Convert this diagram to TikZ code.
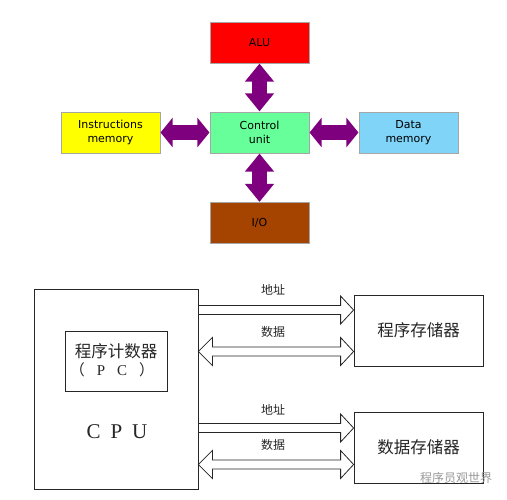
\documentclass[tikz,border=0pt]{standalone}
\usepackage{fontspec}
\setmainfont{DejaVu Sans}
\newfontfamily\cjk{Noto Sans CJK SC}
\newfontfamily\serifl{Liberation Serif}
\usetikzlibrary{arrows.meta,calc}
\definecolor{alured}{HTML}{FF0000}
\definecolor{cugreen}{HTML}{66FF99}
\definecolor{insyellow}{HTML}{FFFF00}
\definecolor{dmblue}{HTML}{80D4F8}
\definecolor{iobrown}{HTML}{A54300}
\definecolor{fatpurple}{HTML}{7F007F}
\newcommand\hollowR[2]{\draw[thinline] ($(#1)+(0,-4.5)$) -- ($(#2)+(-13,-4.5)$) -- ($(#2)+(-13,-14)$) -- (#2) -- ($(#2)+(-13,14)$) -- ($(#2)+(-13,4.5)$) -- ($(#1)+(0,4.5)$);}
\newcommand\hollowD[2]{\draw[thinline] ($(#1)+(14,-4.5)$) -- ($(#2)+(-13,-4.5)$) -- ($(#2)+(-13,-14)$) -- (#2) -- ($(#2)+(-13,14)$) -- ($(#2)+(-13,4.5)$) -- ($(#1)+(14,4.5)$) -- ($(#1)+(14,14)$) -- (#1) -- ($(#1)+(14,-14)$) -- cycle;}
\begin{document}
\begin{tikzpicture}[x=1pt,y=-1pt,
  topbox/.style={draw=black!35,line width=0.6pt,minimum width=99pt,minimum height=41pt,inner sep=0pt,align=center,font=\fontsize{11}{14}\selectfont},
  fatV/.style={draw=fatpurple,line width=15pt,{Triangle[width=28pt,length=18pt]}-{Triangle[width=28pt,length=18pt]}},
  fatH/.style={draw=fatpurple,line width=15pt,{Triangle[width=29pt,length=12pt]}-{Triangle[width=29pt,length=12pt]}},
  botbox/.style={draw=black!85,line width=0.8pt,inner sep=0pt},
  thinline/.style={draw=black!85,line width=0.8pt},
  lab/.style={font=\cjk\fontsize{12}{14}\selectfont,text=black!85},
  big/.style={font=\cjk\fontsize{16.5}{20}\selectfont,text=black!85}]
\useasboundingbox[fill=white] (0,0) rectangle (507,499);
% top diagram
\node[topbox,fill=alured] (alu) at (259.5,42.5) {ALU};
\node[topbox,fill=cugreen] (cu) at (259.5,132.5) {Control\\unit};
\node[topbox,fill=insyellow] (ins) at (110.5,132.5) {Instructions\\memory};
\node[topbox,fill=dmblue] (dm) at (408.5,132.5) {Data\\memory};
\node[topbox,fill=iobrown] (io) at (259.5,223) {I/O};
\draw[fatV,shorten <=0.3pt,shorten >=0.3pt] (alu.south) -- (cu.north);
\draw[fatV,shorten <=0.3pt,shorten >=0.3pt] (cu.south) -- (io.north);
\draw[fatH,shorten <=0.3pt,shorten >=0.3pt] (ins.east) -- (cu.west);
\draw[fatH,shorten <=0.3pt,shorten >=0.3pt] (cu.east) -- (dm.west);
% bottom diagram
\node[botbox,minimum width=164pt,minimum height=200pt] (cpu) at (116,389) {};
\node[botbox,minimum width=102pt,minimum height=60pt] (pc) at (116,361) {};
\node[big] (pct) at (116,351) {程序计数器};
\node[font=\cjk\fontsize{15}{18}\selectfont,text=black!85] (pcl) at (112,370) {（\hspace{12pt}{\serifl P}\hspace{12pt}{\serifl C}\hspace{12pt}）};
\node[font=\serifl\fontsize{21}{24}\selectfont,text=black!85] (cpul) at (117,432) {C\hspace{10pt}P\hspace{10pt}U};
\node[botbox,minimum width=129pt,minimum height=71pt,font=\cjk\fontsize{16.5}{20}\selectfont,text=black!85] (pm) at (418.5,330.5) {程序存储器};
\node[botbox,minimum width=129pt,minimum height=71pt,font=\cjk\fontsize{16.5}{20}\selectfont,text=black!85] (dmem) at (418.5,447.5) {数据存储器};
\coordinate (y1) at (0,310);
\coordinate (y2) at (0,351.5);
\coordinate (y3) at (0,428);
\coordinate (y4) at (0,464.5);
\coordinate (s1) at (cpu.east |- y1);
\coordinate (t1) at (pm.west |- y1);
\coordinate (s2) at (cpu.east |- y2);
\coordinate (t2) at (pm.west |- y2);
\coordinate (s3) at (cpu.east |- y3);
\coordinate (t3) at (dmem.west |- y3);
\coordinate (s4) at (cpu.east |- y4);
\coordinate (t4) at (dmem.west |- y4);
\hollowR{s1}{t1}
\hollowD{s2}{t2}
\hollowR{s3}{t3}
\hollowD{s4}{t4}
\node[lab] (l1) at (273,290) {地址};
\node[lab] (l2) at (273,332) {数据};
\node[lab] (l3) at (273,410) {地址};
\node[lab] (l4) at (273,445) {数据};
\node[font=\cjk\fontsize{12}{14}\selectfont,text=black!40] (wm) at (456,478) {程序员观世界};
\end{tikzpicture}
\end{document}
